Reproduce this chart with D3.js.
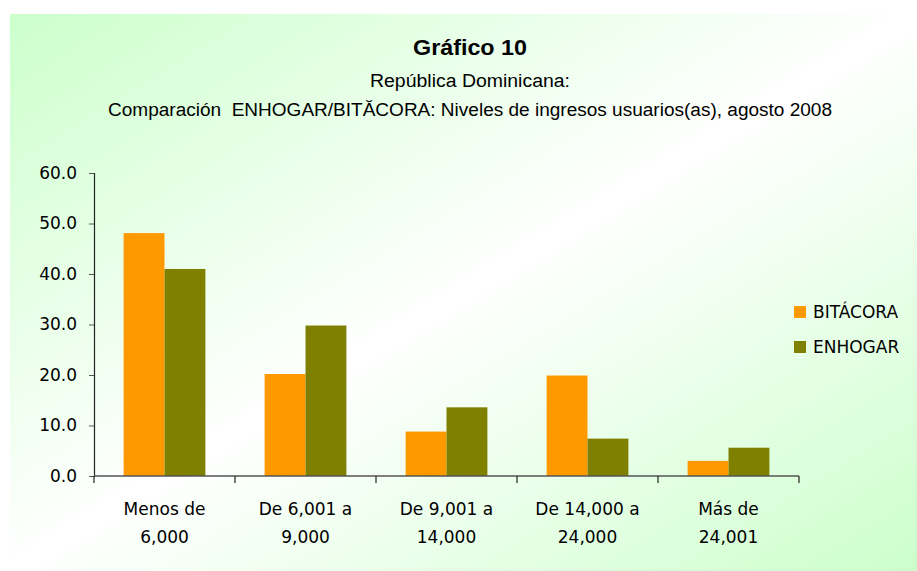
<!DOCTYPE html>
<html>
<head>
<meta charset="utf-8">
<script src="https://cdn.jsdelivr.net/npm/d3@7"></script>
<style>
  body { margin: 0; background: #fff; }
  svg { display: block; }
  text { font-family: "DejaVu Sans", Verdana, sans-serif; fill: #000; }
  text.ttl { font-family: "Liberation Sans", Arial, sans-serif; white-space: pre; }
</style>
</head>
<body>
<svg width="917" height="571"></svg>
<script>
// values
const categories = [["Menos de", "6,000"], ["De 6,001 a", "9,000"], ["De 9,001 a", "14,000"], ["De 14,000 a", "24,000"], ["Más de", "24,001"]];
const seriesNames = ["BITÁCORA", "ENHOGAR"];
const bitacora = [48.1, 20.2, 8.8, 19.9, 3.0];
const enhogar = [41.0, 29.8, 13.6, 7.4, 5.6];
const yTicks = [0, 10, 20, 30, 40, 50, 60];
const colors = ["#ff9900", "#808000"];

var svg = d3.select("svg");

// background gradient panel
var defs = svg.append("defs");
var grad = defs.append("linearGradient")
    .attr("id", "bg")
    .attr("x1", "0%").attr("y1", "0%")
    .attr("x2", "100%").attr("y2", "100%");
grad.append("stop").attr("offset", "0%").attr("stop-color", "#ccffcc");
grad.append("stop").attr("offset", "50%").attr("stop-color", "#ffffff");
grad.append("stop").attr("offset", "100%").attr("stop-color", "#ccffcc");

svg.append("rect")
    .attr("x", 10).attr("y", 14)
    .attr("width", 907).attr("height", 557)
    .attr("fill", "url(#bg)");

// titles
svg.append("text").attr("class", "ttl")
    .attr("x", 413).attr("y", 55)
    .attr("font-size", 22).attr("font-weight", "bold")
    .attr("textLength", 114).attr("lengthAdjust", "spacingAndGlyphs")
    .text("Gráfico 10");
svg.append("text").attr("class", "ttl")
    .attr("x", 370).attr("y", 87)
    .attr("font-size", 18)
    .attr("textLength", 200).attr("lengthAdjust", "spacingAndGlyphs")
    .text("República Dominicana:");
svg.append("text").attr("class", "ttl")
    .attr("x", 108).attr("y", 116)
    .attr("font-size", 18)
    .attr("textLength", 724).attr("lengthAdjust", "spacingAndGlyphs")
    .text("Comparación  ENHOGAR/BITĂCORA: Niveles de ingresos usuarios(as), agosto 2008");

var margin = {left: 94, top: 173, right: 118, bottom: 95};
var x = d3.scaleBand()
    .domain(d3.range(categories.length))
    .range([margin.left, 917 - margin.right])
    .paddingInner(0.42).paddingOuter(0.21);
var y = d3.scaleLinear()
    .domain([0, 60])
    .range([476, margin.top]);
var xSub = d3.scaleBand()
    .domain([0, 1])
    .range([0, x.bandwidth()]);

// bars
var data = [bitacora, enhogar];
data.forEach(function(vals, s) {
    svg.append("g").selectAll("rect")
        .data(vals)
        .enter().append("rect")
        .attr("x", function(d, i) { return x(i) + xSub(s); })
        .attr("y", function(d) { return y(d); })
        .attr("width", xSub.bandwidth())
        .attr("height", function(d) { return y(0) - y(d); })
        .attr("fill", colors[s]);
});

// y axis
var yAxis = svg.append("g")
    .attr("transform", "translate(" + margin.left + ",0)")
    .call(d3.axisLeft(y).tickValues(yTicks).tickSize(5).tickPadding(12).tickFormat(d3.format(".1f")));
yAxis.selectAll("text").attr("font-size", 17).attr("font-family", "DejaVu Sans");
yAxis.select(".domain").attr("stroke", "#222").attr("stroke-width", 1.2);
yAxis.selectAll(".tick line").attr("stroke", "#555");

// x axis with boundary ticks
var step = x.step();
var xStart = margin.left;
var xEnd = margin.left + step * categories.length;
var xAxisG = svg.append("g");
xAxisG.append("line")
    .attr("x1", xStart).attr("x2", xEnd)
    .attr("y1", y(0)).attr("y2", y(0))
    .attr("stroke", "#555").attr("stroke-width", 1.5);
xAxisG.selectAll(".tk")
    .data(d3.range(categories.length + 1))
    .enter().append("line")
    .attr("x1", function(d) { return xStart + d * step; })
    .attr("x2", function(d) { return xStart + d * step; })
    .attr("y1", y(0)).attr("y2", y(0) + 7)
    .attr("stroke", "#222").attr("stroke-width", 1.2);

var labels = xAxisG.selectAll(".lbl")
    .data(categories)
    .enter().append("text")
    .attr("text-anchor", "middle")
    .attr("font-size", 17)
    .attr("x", function(d, i) { return xStart + (i + 0.5) * step; })
    .attr("y", 515);
labels.append("tspan")
    .attr("x", function(d, i) { return xStart + (i + 0.5) * step; })
    .text(function(d) { return d[0]; });
labels.append("tspan")
    .attr("x", function(d, i) { return xStart + (i + 0.5) * step; })
    .attr("dy", 28)
    .text(function(d) { return d[1]; });

// legend
var legend = svg.append("g").selectAll("g")
    .data(seriesNames)
    .enter().append("g")
    .attr("transform", function(d, i) { return "translate(794," + (306 + i * 35) + ")"; });
legend.append("rect")
    .attr("width", 12).attr("height", 12)
    .attr("fill", function(d, i) { return colors[i]; });
legend.append("text")
    .attr("x", 19).attr("y", 12)
    .attr("font-size", 17)
    .text(function(d) { return d; });
</script>
</body>
</html>
